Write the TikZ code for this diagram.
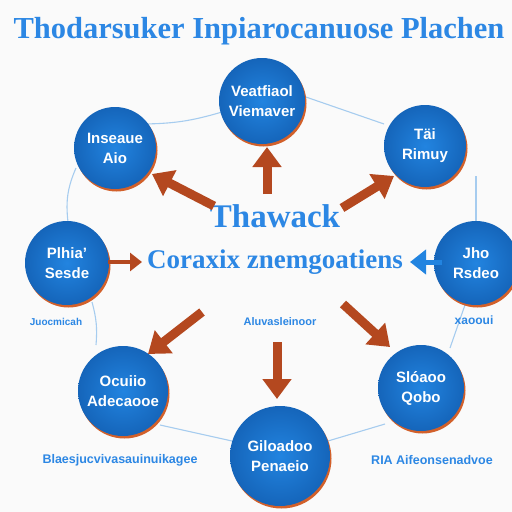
\documentclass[tikz,border=0pt]{standalone}
\usepackage{fontspec}
\setmainfont{Liberation Serif}
\setsansfont{Liberation Sans}
\usetikzlibrary{arrows.meta,shadows}
\definecolor{cblue}{HTML}{2284E0}
\definecolor{cdeep}{HTML}{1565BA}
\definecolor{corange}{HTML}{D2602A}
\definecolor{carrow}{HTML}{B4481F}
\definecolor{tblue}{HTML}{2C87E4}
\definecolor{ringc}{HTML}{A6CCEF}
\definecolor{bgc}{HTML}{FAFAFA}
\tikzset{
  circ/.style={circle, inner sep=0pt, minimum size=#1, inner color=cblue, outer color=cdeep,
    text=white, font=\sffamily\bfseries\fontsize{15}{20}\selectfont, align=center,
    drop shadow={shadow xshift=1.5pt, shadow yshift=-2.5pt, fill=corange, opacity=1}},
  ring/.style={draw=ringc, line width=1.1pt},
  fat/.style={draw=carrow, line width=9pt, -{Triangle[length=20pt,width=28pt]}},
  fatblue/.style={draw=cblue, line width=5pt, -{Triangle[length=16pt,width=24pt]}},
  lbl/.style={text=tblue, font=\sffamily\bfseries\fontsize{10}{12}\selectfont},
}
\begin{document}
\begin{tikzpicture}[x=1pt,y=-1pt]
\fill[bgc] (0,0) rectangle (512,512);
\useasboundingbox (0,0) rectangle (512,512);
\begin{scope}
\clip (0,0) rectangle (512,512);
% ring lines
\coordinate (r1) at (222,112);
\coordinate (r2) at (142,124);
\coordinate (r3) at (76,168);
\coordinate (r4) at (68,222);
\coordinate (r5) at (92,302);
\coordinate (r6) at (96,345);
\coordinate (r7) at (160,425);
\coordinate (r8) at (232,441);
\coordinate (r9) at (328,441);
\coordinate (r10) at (385,424);
\coordinate (r11) at (450,348);
\coordinate (r12) at (466,302);
\coordinate (r13) at (476,222);
\coordinate (r14) at (476,176);
\coordinate (r15) at (384,124);
\coordinate (r16) at (303,96);
\draw[ring] (r1) to[bend left=8] (r2);
\draw[ring] (r3) to[bend right=15] (r4);
\draw[ring] (r5) to[bend left=10] (r6);
\draw[ring] (r7) -- (r8);
\draw[ring] (r9) -- (r10);
\draw[ring] (r11) -- (r12);
\draw[ring] (r13) -- (r14);
\draw[ring] (r15) -- (r16);
% circles
\node[circ=86pt] (T)  at (262,101) {Veatfiaol\\Viemaver};
\node[circ=82pt] (UL) at (115,148) {Inseaue\\Aio};
\node[circ=82pt] (UR) at (425,146) {Täi\\Rimuy};
\node[circ=84pt] (L)  at (67,263) {Plhia'\\Sesde};
\node[circ=84pt] (R)  at (476,263) {Jho\\Rsdeo};
\node[circ=90pt] (LL) at (123,391) {Ocuiio\\Adecaooe};
\node[circ=86pt] (LR) at (421,388) {Slóaoo\\Qobo};
\node[circ=100pt] (B) at (280,456) {Giloadoo\\Penaeio};
% title and centre texts
\node[anchor=west, text=tblue, font=\bfseries\fontsize{30.5}{34}\selectfont] (title) at (10,31) {Thodarsuker Inpiarocanuose Plachen};
\node[text=tblue, font=\bfseries\fontsize{33}{36}\selectfont] (tw) at (275,216) {Thawack};
\node[text=tblue, font=\bfseries\fontsize{27}{30}\selectfont] (cx) at (275,262) {Coraxix znemgoatiens};
% small labels
\node[lbl] (l1) at (56,322) {Juocmicah};
\node[lbl, font=\sffamily\bfseries\fontsize{11}{13}\selectfont] (l2) at (280,322) {Aluvasleinoor};
\node[lbl, font=\sffamily\bfseries\fontsize{12}{14}\selectfont] (l3) at (474,320) {xaooui};
\node[lbl, font=\sffamily\bfseries\fontsize{12.5}{14}\selectfont] (l4) at (120,460) {Blaesjucvivasauinuikagee};
\node[lbl, font=\sffamily\bfseries\fontsize{12.5}{14}\selectfont] (l5) at (432,460) {RIA Aifeonsenadvoe};
% arrows
\coordinate (a1s) at (267,194); \coordinate (a1e) at (267,147);
\coordinate (a2s) at (214,206); \coordinate (a2e) at (152,174);
\coordinate (a3s) at (342,208); \coordinate (a3e) at (394,176);
\coordinate (a4s) at (108,262); \coordinate (a4e) at (142,262);
\coordinate (a5s) at (442,262); \coordinate (a5e) at (410,262);
\coordinate (a6s) at (202,312); \coordinate (a6e) at (148,354);
\coordinate (a7s) at (277,342); \coordinate (a7e) at (277,399);
\coordinate (a8s) at (343,304); \coordinate (a8e) at (390,347);
\draw[fat] (a1s) -- (a1e);
\draw[fat] (a2s) -- (a2e);
\draw[fat] (a3s) -- (a3e);
\draw[fat, line width=4pt, -{Triangle[length=12pt,width=18pt]}] (a4s) -- (a4e);
\draw[fatblue] (a5s) -- (a5e);
\draw[fat] (a6s) -- (a6e);
\draw[fat] (a7s) -- (a7e);
\draw[fat] (a8s) -- (a8e);
\end{scope}
\end{tikzpicture}
\end{document}
